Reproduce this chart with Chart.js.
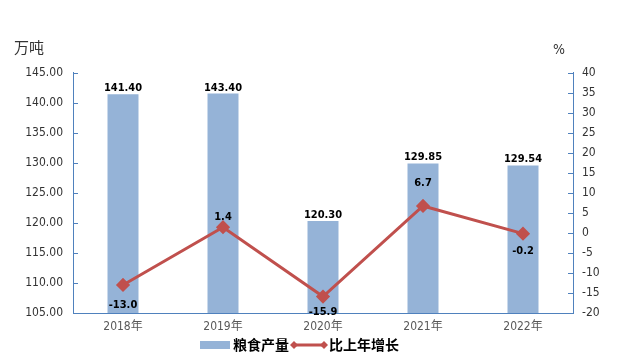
<!DOCTYPE html>
<html lang="zh">
<head>
  <meta charset="UTF-8" />
  <title>粮食产量</title>
  <script src="https://cdn.jsdelivr.net/npm/chart.js"></script>
  <style>
    body {
      margin: 0;
      background: #ffffff;
    }
    #chart {
      display: block;
    }
  </style>
</head>
<body>
  <canvas id="chart" width="622" height="359"></canvas>

  <script>
    // 数据
    const years = ['2018年', '2019年', '2020年', '2021年', '2022年'];
    const grainOutput = [141.40, 143.40, 120.30, 129.85, 129.54];
    const growthRate = [-13.0, 1.4, -15.9, 6.7, -0.2];
    const leftTicks = [105, 110, 115, 120, 125, 130, 135, 140, 145];
    const rightTicks = [-20, -15, -10, -5, 0, 5, 10, 15, 20, 25, 30, 35, 40];

    // 样式
    const barColor = '#95b3d7';
    const lineColor = '#c0504d';
    const axisColor = '#4f81bd';
    const numFont = '"DejaVu Sans Condensed", "DejaVu Sans", "Noto Sans CJK SC", sans-serif';
    const cjkFont = '"Noto Sans CJK SC", "DejaVu Sans", sans-serif';
    // 折线标签的上下偏移（正数在下方）
    const lineLabelDy = [20, -10, 16, -23, 18];

    const extras = {
      id: 'extras',
      afterDatasetsDraw(chart) {
        const ctx = chart.ctx;
        const area = chart.chartArea;
        const yL = chart.scales.y;
        const yR = chart.scales.y1;
        ctx.save();

        // 内侧刻度线
        ctx.strokeStyle = axisColor;
        ctx.lineWidth = 1;
        ctx.beginPath();
        leftTicks.forEach(v => {
          const y = Math.round(yL.getPixelForValue(v)) + 0.5;
          ctx.moveTo(area.left, y);
          ctx.lineTo(area.left + 5, y);
        });
        rightTicks.forEach(v => {
          const y = Math.round(yR.getPixelForValue(v)) + 0.5;
          ctx.moveTo(area.right - 5, y);
          ctx.lineTo(area.right, y);
        });
        ctx.stroke();

        // 柱子标签
        ctx.font = 'bold 11px ' + numFont;
        ctx.textAlign = 'center';
        ctx.textBaseline = 'middle';
        const barMeta = chart.getDatasetMeta(0);
        barMeta.data.forEach((bar, i) => {
          const text = grainOutput[i].toFixed(2);
          const y = Math.max(bar.y - 6, area.top + 16);
          const w = ctx.measureText(text).width;
          if (bar.y - 6 < area.top + 16) {
            ctx.fillStyle = '#ffffff';
            ctx.fillRect(bar.x - w / 2 - 2, y - 7, w + 4, 12);
          }
          ctx.fillStyle = '#000000';
          ctx.fillText(text, bar.x, y);
        });

        // 折线标签
        const lineMeta = chart.getDatasetMeta(1);
        lineMeta.data.forEach((pt, i) => {
          ctx.fillStyle = '#000000';
          ctx.fillText(growthRate[i].toFixed(1), pt.x, pt.y + lineLabelDy[i]);
        });

        // 轴单位
        ctx.fillStyle = '#333333';
        ctx.textAlign = 'left';
        ctx.font = '15px ' + cjkFont;
        ctx.fillText('万吨', 14, 47);
        ctx.font = '14px ' + numFont;
        ctx.fillText('%', 553, 50);

        // 图例
        const ly = 345;
        let x = 200;
        ctx.fillStyle = barColor;
        ctx.fillRect(x, ly - 4, 30, 8);
        x += 33;
        ctx.fillStyle = '#000000';
        ctx.font = 'bold 14px ' + cjkFont;
        ctx.fillText('粮食产量', x, ly);
        x += ctx.measureText('粮食产量').width + 2;
        ctx.strokeStyle = lineColor;
        ctx.lineWidth = 3;
        ctx.beginPath();
        ctx.moveTo(x + 2, ly);
        ctx.lineTo(x + 34, ly);
        ctx.stroke();
        ctx.fillStyle = lineColor;
        [x + 3, x + 33].forEach(cx => {
          ctx.beginPath();
          ctx.moveTo(cx, ly - 4);
          ctx.lineTo(cx + 4, ly);
          ctx.lineTo(cx, ly + 4);
          ctx.lineTo(cx - 4, ly);
          ctx.closePath();
          ctx.fill();
        });
        x += 38;
        ctx.fillStyle = '#000000';
        ctx.fillText('比上年增长', x, ly);

        ctx.restore();
      }
    };

    new Chart(document.getElementById('chart').getContext('2d'), {
      type: 'bar',
      data: {
        labels: years,
        datasets: [
          {
            type: 'bar',
            label: '粮食产量',
            data: grainOutput,
            backgroundColor: barColor,
            yAxisID: 'y',
            barPercentage: 0.31,
            categoryPercentage: 1.0,
            order: 2
          },
          {
            type: 'line',
            label: '比上年增长',
            data: growthRate,
            borderColor: lineColor,
            backgroundColor: lineColor,
            borderWidth: 3,
            pointStyle: 'rectRot',
            pointRadius: 5,
            pointBackgroundColor: lineColor,
            pointBorderColor: lineColor,
            tension: 0,
            yAxisID: 'y1',
            order: 1
          }
        ]
      },
      options: {
        responsive: false,
        animation: false,
        layout: { padding: { top: 72.5, bottom: 0, left: 0, right: 0 } },
        plugins: {
          legend: { display: false },
          tooltip: { enabled: false }
        },
        scales: {
          x: {
            grid: { display: false, drawTicks: false },
            border: { color: axisColor, width: 1 },
            ticks: { color: '#595959', font: { size: 12, family: numFont }, padding: 7 },
            afterFit: s => { s.height = 46; }
          },
          y: {
            position: 'left',
            min: 105,
            max: 145,
            grid: { display: false, drawTicks: false },
            border: { color: axisColor, width: 1 },
            afterBuildTicks: s => { s.ticks = leftTicks.map(v => ({ value: v })); },
            ticks: {
              color: '#333333',
              font: { size: 12, family: numFont },
              padding: 10,
              callback: v => Number(v).toFixed(2)
            },
            afterFit: s => { s.width = 73; }
          },
          y1: {
            position: 'right',
            min: -20,
            max: 40,
            grid: { display: false, drawTicks: false },
            border: { color: axisColor, width: 1 },
            afterBuildTicks: s => { s.ticks = rightTicks.map(v => ({ value: v })); },
            ticks: {
              color: '#333333',
              font: { size: 12, family: numFont },
              padding: 9,
              callback: v => String(v)
            },
            afterFit: s => { s.width = 49; }
          }
        }
      },
      plugins: [extras]
    });
  </script>
</body>
</html>
